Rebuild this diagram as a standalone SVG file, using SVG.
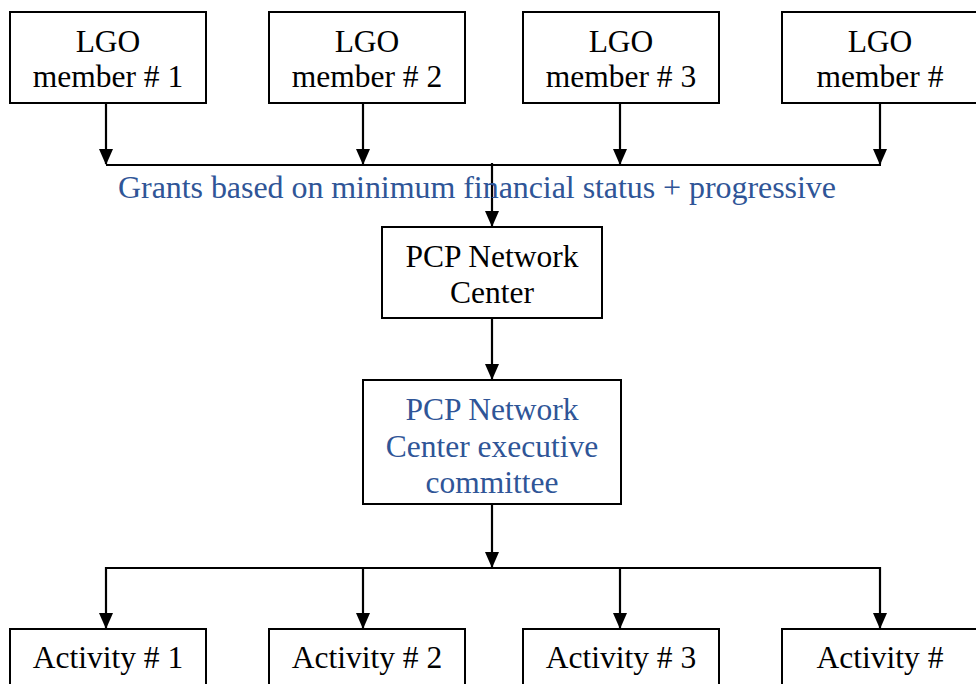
<svg xmlns="http://www.w3.org/2000/svg" width="976" height="684" viewBox="0 0 976 684">
<defs>
<marker id="ah" markerUnits="userSpaceOnUse" markerWidth="16" markerHeight="14" refX="15" refY="7" orient="auto" viewBox="0 0 16 14">
<polygon points="0,0 16,7 0,14" fill="#000"/>
</marker>
<style>
.box{fill:#fff;stroke:#000;stroke-width:2}
.t{font-family:"Liberation Serif","Times New Roman",serif;font-size:31.5px;fill:#000;text-anchor:middle}
.b{fill:#2F5597}
.g{font-size:32px}
.c{fill:none;stroke:#000;stroke-width:2.2}
</style>
</defs>
<g id="connectors">
<line class="c" x1="106" y1="103" x2="106" y2="164" marker-end="url(#ah)"/>
<line class="c" x1="363" y1="103" x2="363" y2="164" marker-end="url(#ah)"/>
<line class="c" x1="620" y1="103" x2="620" y2="164" marker-end="url(#ah)"/>
<line class="c" x1="880" y1="103" x2="880" y2="164" marker-end="url(#ah)"/>
<line class="c" x1="106" y1="165" x2="881" y2="165"/>
<line class="c" x1="492" y1="163" x2="492" y2="226" marker-end="url(#ah)"/>
<line class="c" x1="492" y1="318" x2="492" y2="379" marker-end="url(#ah)"/>
<line class="c" x1="492" y1="504" x2="492" y2="567" marker-end="url(#ah)"/>
<line class="c" x1="106" y1="568" x2="881" y2="568"/>
<line class="c" x1="106" y1="567" x2="106" y2="628" marker-end="url(#ah)"/>
<line class="c" x1="363" y1="567" x2="363" y2="628" marker-end="url(#ah)"/>
<line class="c" x1="620" y1="567" x2="620" y2="628" marker-end="url(#ah)"/>
<line class="c" x1="880" y1="567" x2="880" y2="628" marker-end="url(#ah)"/>
</g>
<text class="t b g" x="477" y="198" textLength="718" lengthAdjust="spacing">Grants based on minimum financial status + progressive</text>
<g id="lgo1"><rect class="box" x="10" y="12" width="196" height="91"/><text class="t" x="108" y="52">LGO</text><text class="t" x="108" y="87">member # 1</text></g>
<g id="lgo2"><rect class="box" x="269" y="12" width="196" height="91"/><text class="t" x="367" y="52">LGO</text><text class="t" x="367" y="87">member # 2</text></g>
<g id="lgo3"><rect class="box" x="523" y="12" width="196" height="91"/><text class="t" x="621" y="52">LGO</text><text class="t" x="621" y="87">member # 3</text></g>
<g id="lgo4"><rect class="box" x="782" y="12" width="196" height="91"/><text class="t" x="880" y="52">LGO</text><text class="t" x="880" y="87">member #</text></g>
<g id="pcp"><rect class="box" x="382" y="227" width="220" height="91"/><text class="t" x="492" y="267">PCP Network</text><text class="t" x="492" y="303">Center</text></g>
<g id="exec"><rect class="box" x="363" y="380" width="258" height="124"/><text class="t b" x="492" y="420">PCP Network</text><text class="t b" x="492" y="457">Center executive</text><text class="t b" x="492" y="493">committee</text></g>
<g id="act1"><rect class="box" x="10" y="629" width="196" height="70"/><text class="t" x="108" y="668">Activity # 1</text></g>
<g id="act2"><rect class="box" x="269" y="629" width="196" height="70"/><text class="t" x="367" y="668">Activity # 2</text></g>
<g id="act3"><rect class="box" x="523" y="629" width="196" height="70"/><text class="t" x="621" y="668">Activity # 3</text></g>
<g id="act4"><rect class="box" x="782" y="629" width="196" height="70"/><text class="t" x="880" y="668">Activity #</text></g>
</svg>
